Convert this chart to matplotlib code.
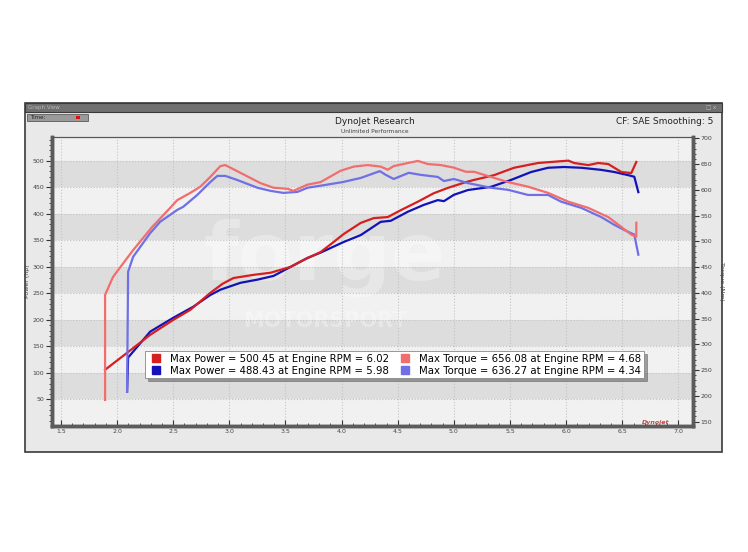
import numpy as np
import matplotlib.pyplot as plt
from matplotlib.patches import Rectangle
from matplotlib.lines import Line2D

# Run 1 (red) - engine rpm (x1000), power (hp), torque (Nm)
red_pwr_rpm = [1.893, 2.089, 2.295, 2.500, 2.652, 2.830, 2.938, 3.036, 3.214, 3.366, 3.545,
               3.661, 3.813, 3.929, 4.018, 4.170, 4.286, 4.411, 4.527, 4.679, 4.821, 4.946,
               5.107, 5.179, 5.357, 5.536, 5.750, 6.020, 6.071, 6.196, 6.286, 6.375, 6.491,
               6.580, 6.625]
red_pwr = [106, 138, 172, 200, 219, 251, 268, 279, 285, 289, 300,
           313, 328, 347, 362, 383, 392, 394, 407, 423, 439, 449,
           460, 464, 473, 487, 496, 500.45, 496, 492, 496, 494, 479,
           477, 498]
red_trq_rpm = [1.893, 1.893, 1.964, 2.143, 2.313, 2.473, 2.536, 2.652, 2.741, 2.830, 2.920,
               2.964, 3.098, 3.277, 3.393, 3.518, 3.571, 3.696, 3.813, 3.991, 4.107, 4.232,
               4.348, 4.411, 4.464, 4.589, 4.680, 4.768, 4.884, 5.000, 5.107, 5.179, 5.330,
               5.482, 5.661, 5.839, 6.018, 6.196, 6.375, 6.491, 6.580, 6.625, 6.625]
red_trq = [192, 396, 431, 483, 528, 565, 580, 594, 606, 625, 646,
           648, 633, 613, 604, 602, 598, 610, 615, 637, 645, 648,
           645, 639, 646, 652, 656.08, 650, 648, 643, 635, 635, 625,
           615, 606, 594, 577, 565, 547, 528, 513, 509, 536]

# Run 2 (blue)
blue_pwr_rpm = [2.089, 2.098, 2.295, 2.500, 2.679, 2.830, 2.920, 3.098, 3.250, 3.393, 3.545,
                3.696, 3.813, 4.018, 4.170, 4.348, 4.438, 4.589, 4.732, 4.857, 4.911, 5.000,
                5.125, 5.330, 5.509, 5.688, 5.839, 5.980, 6.134, 6.313, 6.429, 6.554, 6.607,
                6.643]
blue_pwr = [65, 129, 178, 204, 225, 247, 257, 270, 276, 283, 300,
            317, 327, 347, 360, 385, 387, 404, 417, 426, 424, 436,
            445, 451, 464, 479, 487, 488.43, 487, 483, 479, 473, 470,
            441]
blue_trq_rpm = [2.089, 2.098, 2.143, 2.295, 2.384, 2.536, 2.589, 2.714, 2.830, 2.893, 2.964,
                3.071, 3.250, 3.366, 3.482, 3.607, 3.696, 3.813, 4.009, 4.170, 4.340, 4.393,
                4.464, 4.598, 4.705, 4.857, 4.911, 5.000, 5.125, 5.330, 5.482, 5.661, 5.839,
                5.955, 6.134, 6.313, 6.429, 6.518, 6.607, 6.643]
blue_trq = [208, 441, 470, 516, 538, 561, 567, 590, 615, 627, 627,
            619, 604, 598, 594, 596, 604, 608, 615, 623, 636.27, 629,
            621, 633, 629, 625, 617, 621, 613, 604, 600, 590, 590,
            577, 565, 547, 532, 522, 513, 474]

legend_labels = ['Max Power = 500.45 at Engine RPM = 6.02',
                 'Max Power = 488.43 at Engine RPM = 5.98',
                 'Max Torque = 656.08 at Engine RPM = 4.68',
                 'Max Torque = 636.27 at Engine RPM = 4.34']

c_red = '#d61f1f'
c_blue = '#1212b8'
c_red_l = '#f26d6d'
c_blue_l = '#6f6fe6'

fig = plt.figure(figsize=(7.48, 5.52), dpi=100)
fig.patch.set_facecolor('white')

# window panel
fig.patches.append(Rectangle((0.0334, 0.1812), 0.9318, 0.6322, transform=fig.transFigure,
                             facecolor='#e9e9e9', edgecolor='#3a3a3a', lw=1.2, zorder=-3))
fig.patches.append(Rectangle((0.0334, 0.7971), 0.9318, 0.0163, transform=fig.transFigure,
                             facecolor='#707070', edgecolor='#3a3a3a', lw=0.8, zorder=-2))
fig.text(0.038, 0.805, 'Graph View', fontsize=4, color='#b8b8b8', va='center')
fig.text(0.958, 0.805, '□ x', fontsize=4, color='#bdbdbd', va='center', ha='right')
fig.patches.append(Rectangle((0.036, 0.781), 0.082, 0.012, transform=fig.transFigure,
                             facecolor='#9a9a9a', edgecolor='#5a5a5a', lw=0.6, zorder=-2))
fig.text(0.040, 0.787, 'Time:', fontsize=4, color='#222222', va='center')
fig.patches.append(Rectangle((0.102, 0.784), 0.005, 0.006, transform=fig.transFigure,
                             facecolor='#e01010', edgecolor='none', zorder=-1))

fig.text(0.501, 0.779, 'DynoJet Research', fontsize=6.5, ha='center', va='center', color='#222222')
fig.text(0.501, 0.762, 'Unlimited Performance', fontsize=4.2, ha='center', va='center', color='#444444')
fig.text(0.954, 0.779, 'CF: SAE Smoothing: 5', fontsize=6.5, ha='right', va='center', color='#222222')

ax = fig.add_axes([0.0695, 0.2283, 0.857, 0.5235])
ax.set_facecolor('#f1f1f1')
for lo in [50, 150, 250, 350, 450]:
    ax.axhspan(lo, lo + 50, color='#dddddd', zorder=0, lw=0)
ax.set_xlim(1.42, 7.13)
ax.set_ylim(0, 545)

# faint watermark
ax.text(3.85, 318, 'forge', fontsize=58, color='white', alpha=0.3, ha='center', va='center',
        fontweight='bold', zorder=1)
ax.text(3.85, 198, 'MOTORSPORT', fontsize=15, color='white', alpha=0.3, ha='center', va='center',
        fontweight='bold', zorder=1)

ax.plot(red_pwr_rpm, red_pwr, color=c_red, lw=1.6, zorder=5)
ax.plot(blue_pwr_rpm, blue_pwr, color=c_blue, lw=1.6, zorder=4)

ax.set_xticks(np.arange(1.5, 7.01, 0.5))
ax.set_xticks(np.arange(1.5, 7.01, 0.1), minor=True)
ax.set_yticks(np.arange(50, 501, 50))
ax.set_yticks(np.arange(10, 541, 10), minor=True)
ax.grid(True, which='major', color='#c4c4c4', ls=':', lw=0.8)
ax.tick_params(axis='x', which='both', direction='in', labelsize=4.5, labelcolor='#444444',
               color='#333333', pad=2)
ax.tick_params(axis='x', which='major', length=4)
ax.tick_params(axis='x', which='minor', length=2.5)
ax.tick_params(axis='y', which='both', direction='out', labelsize=4.5, labelcolor='#444444',
               color='#333333', pad=1.5)
ax.tick_params(axis='y', which='major', length=4)
ax.tick_params(axis='y', which='minor', length=2)
ax.set_ylabel('Power (hp)', fontsize=4.5, color='#444444', labelpad=2)

ax2 = ax.twinx()
ax2.set_ylim(141.5, 702.5)
ax2.plot(red_trq_rpm, red_trq, color=c_red_l, lw=1.6, zorder=3)
ax2.plot(blue_trq_rpm, blue_trq, color=c_blue_l, lw=1.6, zorder=2)
ax2.set_yticks(np.arange(150, 701, 50))
ax2.set_yticks(np.arange(150, 701, 10), minor=True)
ax2.tick_params(axis='y', which='both', direction='out', labelsize=4.5, labelcolor='#444444',
                color='#333333', pad=1.5)
ax2.tick_params(axis='y', which='major', length=4)
ax2.tick_params(axis='y', which='minor', length=2)
ax2.set_ylabel('Torque (Nm)', fontsize=4.5, color='#444444', rotation=-90, labelpad=8)

for a in (ax, ax2):
    for s in ['left', 'bottom', 'right']:
        a.spines[s].set_linewidth(2.5)
        a.spines[s].set_color('#5c5c5c')
    a.spines['top'].set_linewidth(0.8)
    a.spines['top'].set_color('#555555')

ax2.text(6.92, 143, 'Dynojet', fontsize=4.5, color='#c04848', style='italic', ha='right',
         va='bottom', fontweight='bold', zorder=6)

handles = [Line2D([], [], ls='none', marker='s', ms=5.5, color=c) for c in
           (c_red, c_blue, c_red_l, c_blue_l)]
leg = ax2.legend(handles, legend_labels, ncol=2, loc='lower left', bbox_to_anchor=(0.145, 0.165),
                 fontsize=7.3, frameon=True, fancybox=False, shadow=True, borderpad=0.25,
                 labelspacing=0.2, handlelength=1.6, handletextpad=0.6, columnspacing=0.8,
                 borderaxespad=0)
leg.get_frame().set_edgecolor('#888888')
leg.get_frame().set_linewidth(0.6)
leg.set_zorder(10)

fig.savefig('out.png', dpi=100)
